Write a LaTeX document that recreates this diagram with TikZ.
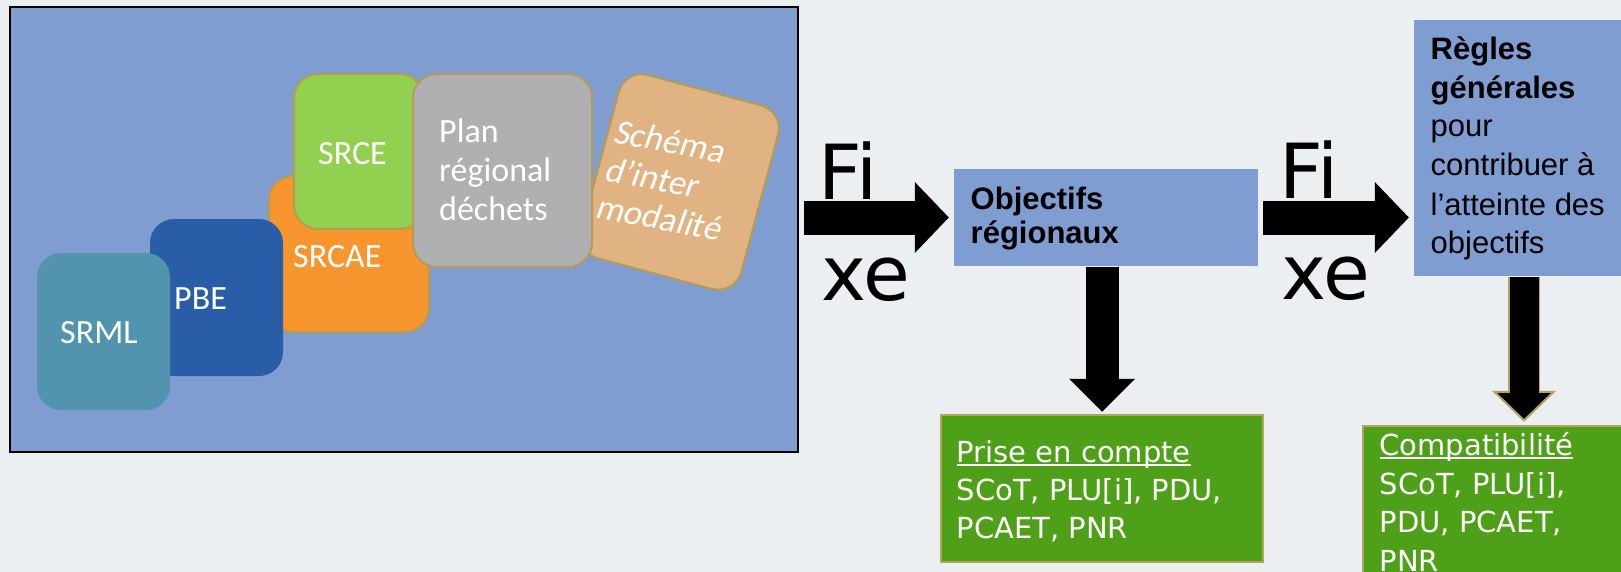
\documentclass[tikz,border=0pt]{standalone}
\usepackage{fontspec}
\setmainfont{Liberation Sans}
\newfontfamily\carl{Carlito}
\newfontfamily\carlsl[FakeSlant=0.15]{Carlito}
\newfontfamily\dvs{DejaVu Sans}
\newfontfamily\lib{Liberation Sans}
\usetikzlibrary{arrows.meta}
\definecolor{bgc}{HTML}{EBEFF2}
\definecolor{panelc}{HTML}{7F9DD1}
\definecolor{tileb}{HTML}{B49D52}
\definecolor{srmlc}{HTML}{5294AD}
\definecolor{pbec}{HTML}{2A5DA8}
\definecolor{srcaec}{HTML}{F7952F}
\definecolor{srcec}{HTML}{92D050}
\definecolor{planc}{HTML}{B0B0B2}
\definecolor{schc}{HTML}{E1B383}
\definecolor{greenc}{HTML}{4EA019}
\definecolor{oliveb}{HTML}{B5A35A}
\newcommand\ulx[1]{\setbox0\hbox{#1}\rlap{\rule[-4pt]{\wd0}{1.6pt}}\box0}
\begin{document}
\begin{tikzpicture}[x=1pt,y=-1pt,
  tile/.style={draw=tileb, line width=2pt, rounded corners=24pt, inner sep=0pt},
  tl/.style={text=white, font=\carl\fontsize{34}{40}\selectfont, inner sep=0pt, anchor=base west},
  sl/.style={text=white, font=\carlsl\fontsize{35}{40}\selectfont, inner sep=0pt, anchor=base west, rotate=-11},
  gl/.style={text=white, font=\dvs\fontsize{29}{35}\selectfont, inner sep=0pt, anchor=base west},
  bl/.style={text=black, font=\lib\fontsize{31}{37}\selectfont, inner sep=0pt, anchor=base west},
  ol/.style={text=black, font=\lib\fontsize{31}{37}\selectfont\bfseries, inner sep=0pt, anchor=base west},
  fx/.style={text=black, font=\dvs\fontsize{76}{80}\selectfont, inner sep=0pt, anchor=base west},
  bigarrow/.style={line width=34pt, -{Triangle[length=34pt,width=71pt,line width=0pt]}, shorten <=5pt, shorten >=5pt}
]
\useasboundingbox (0,0) rectangle (1621,572);
\clip (0,0) rectangle (1621,572);
\fill[bgc] (0,0) rectangle (1621,572);

% left panel
\node[draw=black, line width=2.5pt, fill=panelc, minimum width=788pt, minimum height=445pt, inner sep=0pt] (panel) at (404,229.5) {};

% tiles
\node[tile, fill=srcaec, minimum width=160pt, minimum height=156pt] (srcae) at (349,254) {};
\node[tile, fill=srcec, minimum width=130pt, minimum height=155pt] (srce) at (359,151.5) {};
\node[tile, fill=schc, rotate=-15, minimum width=165pt, minimum height=190pt] (sch) at (680,182) {};
\node[tile, fill=planc, minimum width=179pt, minimum height=193pt] (plan) at (502.5,170.5) {};
\node[tile, draw=none, fill=pbec, minimum width=133pt, minimum height=157pt] (pbe) at (216.5,297.5) {};
\node[tile, draw=none, fill=srmlc, minimum width=133pt, minimum height=157pt] (srml) at (103.5,331.5) {};

\node[tl] (lsrml) at (60,343) {SRML};
\node[tl] (lpbe) at (174,309) {PBE};
\node[tl] (lsrcae) at (293,267) {SRCAE};
\node[tl] (lsrce) at (318,165) {SRCE};
\node[tl] (lplan1) at (439,143) {Plan};
\node[tl] (lplan2) at (439,181.5) {régional};
\node[tl] (lplan3) at (439,220) {déchets};
\node[sl] (lsch1) at (612,142) {Schéma};
\node[sl] (lsch2) at (603,180) {d’inter};
\node[sl] (lsch3) at (594,217) {modalité};

% right boxes
\node[fill=panelc, minimum width=304pt, minimum height=97pt, inner sep=0pt] (obj) at (1106,217.5) {};
\node[ol] (lobj1) at (970.5,209) {Objectifs};
\node[ol] (lobj2) at (970.5,243) {régionaux};

\node[fill=panelc, minimum width=226pt, minimum height=256pt, inner sep=0pt] (regles) at (1527,148) {};
\node[bl, font=\lib\fontsize{31}{37}\selectfont\bfseries] (lr1) at (1430.5,60) {Règles};
\node[bl, font=\lib\fontsize{31}{37}\selectfont\bfseries] (lr2) at (1430.5,99) {générales};
\node[bl] (lr3) at (1430.5,137) {pour};
\node[bl] (lr4) at (1430.5,176) {contribuer à};
\node[bl] (lr5) at (1430.5,215) {l’atteinte des};
\node[bl] (lr6) at (1430.5,253) {objectifs};

\node[draw=oliveb, line width=2.5pt, fill=greenc, minimum width=322pt, minimum height=147pt, inner sep=0pt] (g1) at (1102,488.5) {};
\node[gl] (lg11) at (956.5,462) {\ulx{Prise en compte}};
\node[gl] (lg12) at (956.5,500) {SCoT, PLU[i], PDU,};
\node[gl] (lg13) at (956.5,538) {PCAET, PNR};

\node[draw=oliveb, line width=2.5pt, fill=greenc, minimum width=277pt, minimum height=174pt, inner sep=0pt] (g2) at (1501.5,513) {};
\node[gl] (lg21) at (1379.5,455) {\ulx{Compatibilité}};
\node[gl] (lg22) at (1379.5,494) {SCoT, PLU[i],};
\node[gl] (lg23) at (1379.5,532) {PDU, PCAET,};
\node[gl] (lg24) at (1379.5,571) {PNR};

% arrows
\draw[bigarrow] (panel.east |- obj.west) -- (obj.west);
\draw[bigarrow] (obj.east) -- (obj.east -| regles.west);
\node[fx] (fi1) at (818,200) {Fi};
\node[fx] (xe1) at (821,300) {xe};
\node[fx] (fi2) at (1279,199) {Fi};
\node[fx] (xe2) at (1281,299) {xe};

\draw[line width=33pt, -{Triangle[length=33pt,width=66pt,line width=0pt]}, shorten <=1pt, shorten >=2pt]
  (obj.south -| g1.north) -- (g1.north);

\coordinate (d2x) at (1524,0);
\draw[oliveb, line width=32pt, shorten <=1pt, shorten >=33pt] (regles.south -| d2x) -- (g2.north -| d2x);
\draw[line width=29pt, shorten <=1pt, shorten >=3pt, -{Triangle[length=31pt,width=64pt,line width=2pt,color=oliveb,fill=black]}]
  (regles.south -| d2x) -- (g2.north -| d2x);
\draw[line width=29pt, shorten <=1pt, shorten >=31pt] (regles.south -| d2x) -- (g2.north -| d2x);
\end{tikzpicture}
\end{document}
